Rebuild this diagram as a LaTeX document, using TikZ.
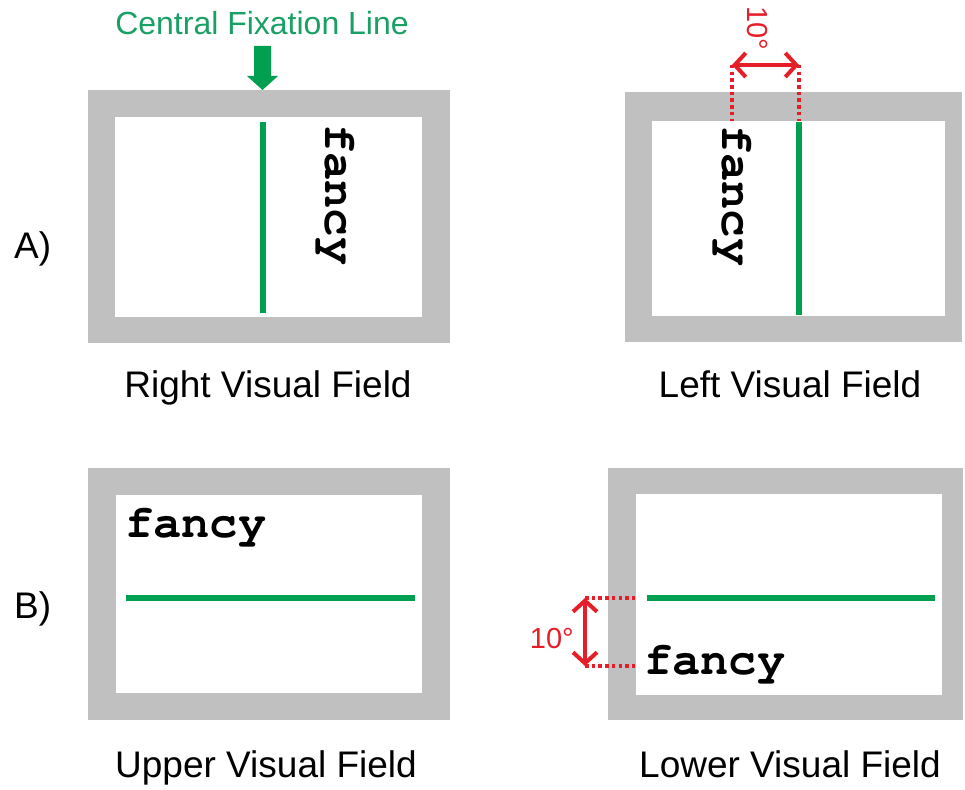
\documentclass[tikz,border=0pt]{standalone}
\usepackage{fontspec}
\setmainfont{Liberation Sans}
\newfontfamily\monofnt{TeX Gyre Cursor}
\usetikzlibrary{arrows.meta}
\definecolor{fgreen}{RGB}{0,160,80}
\definecolor{tgreen}{RGB}{25,160,100}
\definecolor{fred}{RGB}{230,30,40}
\definecolor{fgray}{RGB}{192,192,192}
\tikzset{
  caption/.style={anchor=base, inner sep=0pt, font=\fontsize{37}{40}\selectfont},
  fancyword/.style={anchor=base west, inner sep=0pt, font=\monofnt\bfseries\fontsize{47}{50}\selectfont},
  fixline/.style={draw=fgreen, line width=6pt},
  dimarrow/.style={draw=fred, line width=4pt, {Straight Barb[length=11pt,width=24pt]}-{Straight Barb[length=11pt,width=24pt]}},
  dimdot/.style={draw=fred, line width=3.5pt, dash pattern=on 3.5pt off 3.2pt},
  dimlabel/.style={text=fred, inner sep=0pt, font=\fontsize{29}{32}\selectfont},
}
\newcommand{\vframe}[8]{%
  \fill[fgray] (#1,#2) rectangle (#3,#4);
  \fill[white] (#5,#6) rectangle (#7,#8);}
\begin{document}
\begin{tikzpicture}[x=1pt,y=-1pt]
\useasboundingbox (0,0) rectangle (965,789);
% frames
\vframe{88}{90}{450}{343}{115}{117}{422}{317}
\vframe{625}{92}{962}{342}{652}{121}{945}{316}
\vframe{88}{468}{450}{720}{116}{495}{422}{693}
\vframe{608}{468}{963}{720}{636}{494}{942}{695}
% row labels
\node[caption, anchor=base west] (la) at (14,258) {A)};
\node[caption, anchor=base west] (lb) at (14,618) {B)};
% captions
\node[caption] (c1) at (268,397) {Right Visual Field};
\node[caption] (c2) at (790,397) {Left Visual Field};
\node[caption] (c3) at (266,777) {Upper Visual Field};
\node[caption] (c4) at (790,777) {Lower Visual Field};
% central fixation label and arrow
\node[anchor=base, inner sep=0pt, text=tgreen, font=\fontsize{32}{35}\selectfont] (cfl) at (262,35) {Central Fixation Line};
\fill[fgreen] (254,46) -- (271,46) -- (271,76) -- (278,76) -- (262.5,90) -- (247,76) -- (254,76) -- cycle;
% green fixation lines
\coordinate (a1t) at (263,122); \coordinate (a1b) at (263,313);
\draw[fixline] (a1t) -- (a1b);
\coordinate (a2t) at (799,122); \coordinate (a2b) at (799,315);
\draw[fixline] (a2t) -- (a2b);
\coordinate (b1l) at (126,598); \coordinate (b1r) at (415,598);
\draw[fixline] (b1l) -- (b1r);
\coordinate (b2l) at (647,598); \coordinate (b2r) at (935,598);
\draw[fixline] (b2l) -- (b2r);
% words
\node[fancyword, rotate=-90] (f1) at (325,124) {fancy};
\node[fancyword, rotate=-90] (f2) at (722,125) {fancy};
\node[fancyword] (f3) at (125,537) {fancy};
\node[fancyword] (f4) at (644,674) {fancy};
% A-right dimension
\coordinate (d1l) at (732,65); \coordinate (d1r) at (799,65);
\coordinate (d1lb) at (732,121); \coordinate (d1rb) at (799,121);
\draw[dimdot] (d1l) -- (d1lb);
\draw[dimdot] (d1r) -- (d1rb);
\draw[dimarrow] (d1l) -- (d1r);
\node[dimlabel, anchor=base west, rotate=-90] (t1) at (747,6) {10°};
% B-right dimension
\coordinate (d2t) at (585,598); \coordinate (d2b) at (585,666);
\coordinate (d2tr) at (638,598); \coordinate (d2br) at (638,666);
\draw[dimdot] (d2t) -- (d2tr);
\draw[dimdot] (d2b) -- (d2br);
\draw[dimarrow] (d2t) -- (d2b);
\node[dimlabel, anchor=base east] (t2) at (574,648) {10°};
\end{tikzpicture}
\end{document}
